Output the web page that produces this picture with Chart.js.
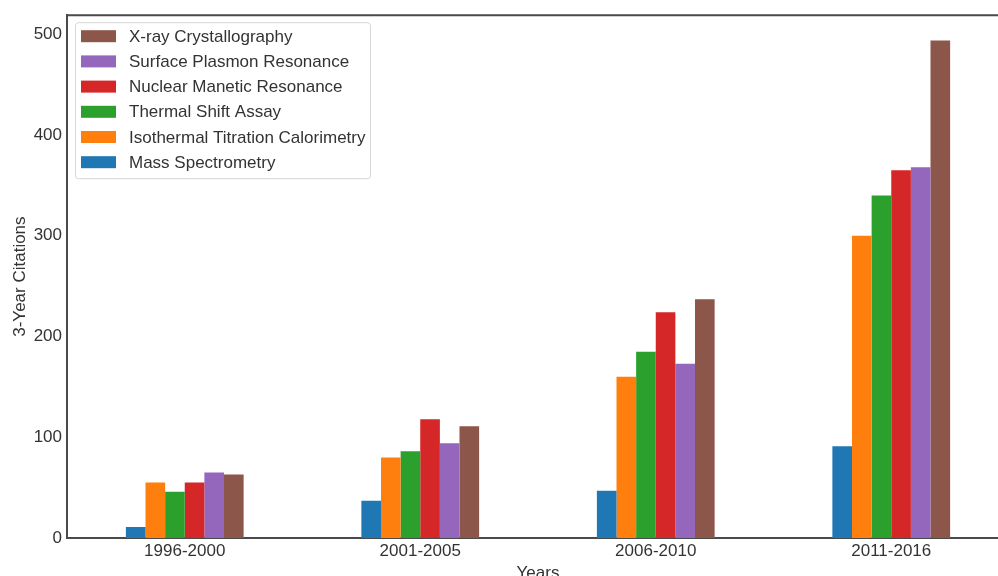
<!DOCTYPE html>
<html>
<head>
<meta charset="utf-8">
<script src="https://cdn.jsdelivr.net/npm/chart.js@4.4.1/dist/chart.umd.min.js"></script>
<style>
  html, body { margin: 0; padding: 0; background: #fff; overflow: hidden; }
  #wrap { width: 1012px; height: 576px; position: relative; }
</style>
</head>
<body>
<div id="wrap"><canvas id="citations-chart"></canvas></div>
<script>
// 3-year citations by technique, grouped by period
const periods = ['1996-2000', '2001-2005', '2006-2010', '2011-2016'];

const massSpec = [11, 37, 47, 91];
const itc = [55, 80, 160, 300];
const thermalShift = [46, 86, 185, 340];
const nmr = [55, 118, 224, 365];
const spr = [65, 94, 173, 368];
const xray = [63, 111, 237, 494];

const yTicks = [0, 100, 200, 300, 400, 500];

const COLORS = {
  blue: '#1f77b4',
  orange: '#ff7f0e',
  green: '#2ca02c',
  red: '#d62728',
  purple: '#9467bd',
  brown: '#8c564b'
};

const FONT = 'Liberation Sans, Arial, sans-serif';
const TEXT = '#333333';

// legend drawn inside the plot, upper left, last series first
const innerLegend = {
  id: 'innerLegend',
  afterDraw(chart) {
    const ctx = chart.ctx;
    const area = chart.chartArea;
    const sets = chart.data.datasets.slice().reverse();
    const x = area.left + 8, y = area.top + 7;
    const w = 295, rowH = 25.2, h = rowH * (sets.length - 1) + 30;
    ctx.save();
    ctx.fillStyle = 'rgba(255,255,255,0.9)';
    ctx.strokeStyle = '#d6d6d6';
    ctx.lineWidth = 1;
    ctx.beginPath();
    ctx.roundRect(x + 0.5, y + 0.5, w, h, 3);
    ctx.fill();
    ctx.stroke();
    ctx.font = '17px ' + FONT;
    ctx.textBaseline = 'middle';
    sets.forEach(function(ds, i) {
      const cy = y + 14 + i * rowH;
      ctx.fillStyle = ds.backgroundColor;
      ctx.fillRect(x + 6, cy - 6, 35, 12);
      ctx.fillStyle = TEXT;
      ctx.fillText(ds.label, x + 54, cy + 1);
    });
    ctx.restore();
  }
};

// top spine
const frame = {
  id: 'frame',
  afterDraw(chart) {
    const ctx = chart.ctx;
    const a = chart.chartArea;
    ctx.save();
    ctx.strokeStyle = '#4a4a4a';
    ctx.lineWidth = 2;
    ctx.beginPath();
    ctx.moveTo(a.left - 1, a.top);
    ctx.lineTo(a.right + 1, a.top);
    ctx.moveTo(a.right, a.top);
    ctx.lineTo(a.right, a.bottom);
    ctx.stroke();
    ctx.restore();
  }
};

function dataset(label, values, color) {
  return {
    label: label,
    data: values,
    backgroundColor: color,
    borderWidth: 0,
    categoryPercentage: 0.5,
    barPercentage: 1.0
  };
}

const ctx = document.getElementById('citations-chart');
new Chart(ctx, {
  type: 'bar',
  data: {
    labels: periods,
    datasets: [
      dataset('Mass Spectrometry', massSpec, COLORS.blue),
      dataset('Isothermal Titration Calorimetry', itc, COLORS.orange),
      dataset('Thermal Shift Assay', thermalShift, COLORS.green),
      dataset('Nuclear Manetic Resonance', nmr, COLORS.red),
      dataset('Surface Plasmon Resonance', spr, COLORS.purple),
      dataset('X-ray Crystallography', xray, COLORS.brown)
    ]
  },
  options: {
    responsive: true,
    maintainAspectRatio: false,
    animation: false,
    layout: { padding: { top: 14, left: 0, right: 3, bottom: 0 } },
    plugins: {
      legend: { display: false },
      tooltip: { enabled: false }
    },
    scales: {
      x: {
        grid: { display: false, drawTicks: false },
        border: { display: true, color: '#4a4a4a', width: 2 },
        ticks: { color: TEXT, font: { family: FONT, size: 17 }, padding: 3 },
        title: { display: true, text: 'Years', color: TEXT, font: { family: FONT, size: 17 }, padding: { top: 8, bottom: -8 } },
        afterFit(scale) { scale.height = 38; }
      },
      y: {
        min: 0,
        max: 519,
        grid: { display: false, drawTicks: false },
        border: { display: true, color: '#4a4a4a', width: 2 },
        ticks: { color: TEXT, font: { family: FONT, size: 17 }, padding: 5, stepSize: 100 },
        title: { display: true, text: '3-Year Citations', color: TEXT, font: { family: FONT, size: 17 }, padding: { top: 10, bottom: 0 } },
        afterBuildTicks(scale) {
          scale.ticks = yTicks.map(function(v) { return { value: v }; });
        },
        afterFit(scale) { scale.width = 67; }
      }
    }
  },
  plugins: [innerLegend, frame]
});
</script>
</body>
</html>
